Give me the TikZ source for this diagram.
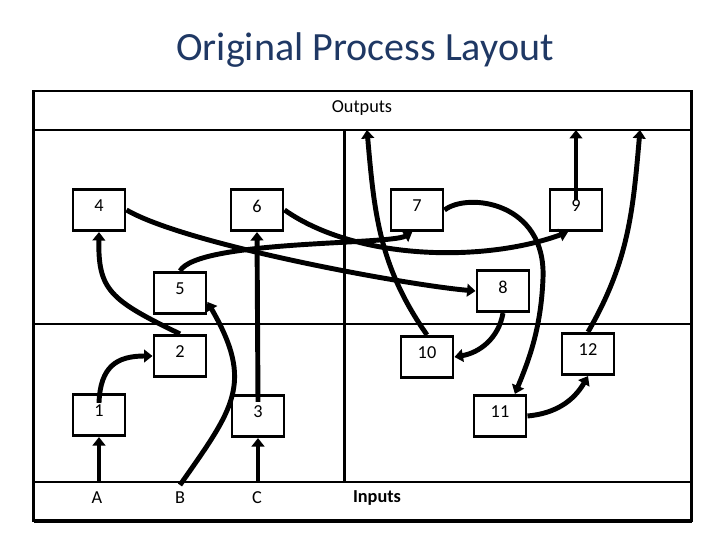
\documentclass[tikz,border=0pt]{standalone}
\usepackage{fontspec}
\setmainfont{Carlito}
\usepackage{tikz}
\usetikzlibrary{arrows.meta, positioning, calc}
\definecolor{titleblue}{RGB}{31,56,100}

\begin{document}
\begin{tikzpicture}[x=0.025cm, y=0.025cm,
            box/.style={draw, rectangle, line width=2.1pt, minimum width=1.3cm, minimum height=1.03cm, inner sep=0pt, text depth=0.2cm, font=\fontsize{13}{15}\selectfont},
            lbl/.style={font=\fontsize{13}{15}\selectfont},
            frame/.style={line width=2.1pt},
            arrow/.style={-{Triangle[length=6pt,width=9pt]}, line width=3.5pt}
        ]

        \useasboundingbox (0,0) rectangle (720,540);

        \node[font=\fontsize{28.5}{34}\selectfont, text=titleblue] (title) at (365,490) {Original Process Layout};

        \draw[frame] (33.5,19) rectangle (691.7,449);
        \draw[line width=3.2pt] (33.5,19) -- (691.7,19);
        \draw[frame] (33.5,410) -- (691.7,410);
        \draw[frame] (33.5,58) -- (691.7,58);
        \draw[frame] (33.5,216) -- (691.7,216);
        \draw[frame] (344.7,410) -- (344.7,58);

        \node[lbl] (outputs) at (362,432) {Outputs};
        \node[lbl] (labA) at (97,42) {A};
        \node[lbl] (labB) at (180,42) {B};
        \node[lbl] (labC) at (257,42) {C};
        \node[lbl, font=\fontsize{13}{15}\selectfont\bfseries] (inputs) at (377,42) {Inputs};

        \node[box] (n4) at (99,330) {4};
        \node[box] (n6) at (257,330) {6};
        \node[box] (n7) at (417,330) {7};
        \node[box] (n9) at (576,330) {9};
        \node[box] (n5) at (180,247) {5};
        \node[box] (n8) at (503,249) {8};
        \node[box] (n2) at (180,184) {2};
        \node[box] (n10) at (427,183) {10};
        \node[box] (n12) at (588,186) {12};
        \node[box] (n1) at (99,125) {1};
        \node[box] (n3) at (258,124) {3};
        \node[box] (n11) at (500,124) {11};

        \coordinate (inA) at (99,58);
        \coordinate (inB) at (180,55);
        \coordinate (inC) at (258,58);
        \coordinate (outL) at (367,410);
        \coordinate (outM) at (576,410);
        \coordinate (outR) at (640,410);

        \draw[arrow] (inA) -- (n1);
        \draw[arrow] (inC) -- (n3);
        \draw[arrow] (inB) to[out=55, in=-60, looseness=1.3] (n5.-18);

        \draw[arrow] ([yshift=-0.25cm]n1.north) to[out=88, in=180, looseness=1.3] (n2.west);
        \draw[arrow] (n2.north) .. controls (110,240) and (98,250) .. (n4.south);
        \draw[arrow] ([yshift=-0.2cm]n3.north) -- (n6.south);

        \draw[arrow] (n4.east) to[out=-30, in=175, looseness=0.5] (n8.west);
        \draw[arrow] (n5.north) .. controls (198,300) and (390,295) .. ([xshift=-0.12cm]n7.south);
        \draw[arrow] (n6.east) to[out=-35, in=200, looseness=0.8] (n9.-110);
        \draw[arrow] (n7.east) .. controls (468,348) and (546,338) .. (543,262) .. controls (541,210) and (528,178) .. (n11.56);
        \draw[arrow] (n8.south) to[out=-100, in=10] (n10.east);

        \draw[arrow] (n10.north) to[out=125, in=-85] (outL);
        \draw[arrow] ([yshift=0.25cm]n9.center) -- (outM);
        \draw[arrow] (n12.north) to[out=60, in=-95] (outR);
        \draw[arrow] (n11.east) to[out=5, in=240] (n12.south);

\end{tikzpicture}
\end{document}
